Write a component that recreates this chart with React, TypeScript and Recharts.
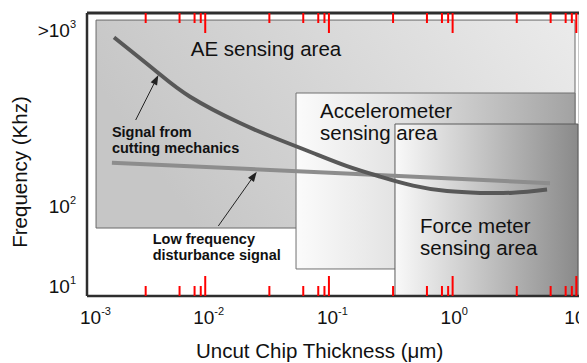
import React from 'react';
import { LineChart, Line, XAxis, YAxis, ReferenceArea, ReferenceLine, ReferenceDot } from 'recharts';

// x: uncut chip thickness (um), log axis; y: frequency (kHz), log axis (schematic)
const xDomain = [0.001107, 10.71];
const yDomain = [7.72, 26600];

const xMajorTicks = [0.001, 0.01, 0.1, 1, 10];
const xTickExp = ['-3', '-2', '-1', '0', '1'];
const xMinorTicks = [
  0.0033, 0.0062, 0.0082, 0.0092,
  0.033, 0.062, 0.082, 0.092,
  0.33, 0.62, 0.82, 0.92,
  3.3, 6.2, 8.2, 9.2,
];

const yTicks = [10, 100, 16000];
const yTickBase = ['10', '10', '>10'];
const yTickExp = ['1', '2', '3'];

// signal from cutting mechanics
const cuttingX = [0.00183, 0.00405, 0.00754, 0.0191, 0.0402, 0.0744, 0.14, 0.259, 0.479, 0.901, 1.67, 3.08, 5.8];
const cuttingY = [13200, 4910, 2390, 1120, 688, 473, 324, 240, 185, 158, 150, 151, 166];

// low frequency disturbance signal
const disturbX = [0.00176, 0.102, 6.13];
const disturbY = [358, 268, 198];

// sensing areas
const areaNames = ['ae', 'acc', 'force'];
const areaX1 = [0.00131, 0.0542, 0.342];
const areaX2 = [9.76, 9.76, 10.3];
const areaY1 = [54.6, 16.8, 7.8];
const areaY2 = [21700, 2660, 1090];

// text annotations
const noteLines = [
  ['AE sensing area'],
  ['Accelerometer', 'sensing area'],
  ['Force meter', 'sensing area'],
  ['Signal from', 'cutting mechanics'],
  ['Low frequency', 'disturbance signal'],
];
const noteX = [0.00764, 0.0847, 0.545, 0.00176, 0.00376];
const noteY = [7720, 1285, 47.3, 750, 34.5];
const noteBold = [false, false, false, true, true];

// arrows from notes to curves
const arrowFromX = [0.00274, 0.01276];
const arrowFromY = [1223, 57.9];
const arrowToX = [0.00418, 0.0261];
const arrowToY = [4467, 276];

const FONT = '"Liberation Sans", Arial, sans-serif';
const PLOT_LEFT = 79;
const PLOT_H = 283;
const TICK = '#ff0000';
const FRAME = '#2e2e2e';

const cuttingData = cuttingX.map((x, i) => ({ x, y: cuttingY[i] }));
const disturbData = disturbX.map((x, i) => ({ x, y: disturbY[i] }));

// x axis tick: inward marks at the bottom and the top of the frame, label on decades
function XTick(props: any) {
  const { x, y, payload } = props;
  const idx = xMajorTicks.indexOf(payload.value);
  const major = idx >= 0;
  const len = major ? 20 : 10;
  const inPlot = x >= PLOT_LEFT + 1;
  return (
    <g>
      {inPlot && <line x1={x} x2={x} y1={y} y2={y - len} stroke={TICK} strokeWidth={2} />}
      {inPlot && <line x1={x} x2={x} y1={y - PLOT_H} y2={y - PLOT_H + len} stroke={TICK} strokeWidth={2} />}
      {major && (
        <text x={Math.max(x - 12, PLOT_LEFT - 7)} y={y + 28} fontSize={19} fill="#111" fontFamily={FONT}>
          10
          <tspan dy={-9} fontSize={11}>{xTickExp[idx]}</tspan>
        </text>
      )}
    </g>
  );
}

function YTick(props: any) {
  const { x, y, payload } = props;
  const idx = yTicks.indexOf(payload.value);
  return (
    <text x={x - 11} y={y + 6} textAnchor="end" fontSize={19} fill="#111" fontFamily={FONT}>
      {yTickBase[idx]}
      <tspan dy={-9} fontSize={11}>{yTickExp[idx]}</tspan>
    </text>
  );
}

function Arrow(props: any) {
  const { x1, y1, x2, y2 } = props;
  const a = Math.atan2(y2 - y1, x2 - x1);
  const L = 10;
  const W = 3.6;
  const bx = x2 - L * Math.cos(a);
  const by = y2 - L * Math.sin(a);
  const px = -Math.sin(a) * W;
  const py = Math.cos(a) * W;
  return (
    <g>
      <line x1={x1} y1={y1} x2={bx} y2={by} stroke="#222" strokeWidth={1} />
      <polygon points={`${x2},${y2} ${bx + px},${by + py} ${bx - px},${by - py}`} fill="#222" />
    </g>
  );
}

function makeNote(i: number) {
  const bold = noteBold[i];
  const size = bold ? 14.5 : 20.5;
  const lh = bold ? 16.5 : 22;
  return (props: any) => (
    <text x={props.cx} y={props.cy} fontSize={size} fontWeight={bold ? 'bold' : 'normal'} fill="#111" fontFamily={FONT}>
      {noteLines[i].map((t, k) => (
        <tspan key={k} x={props.cx} dy={k === 0 ? 0 : lh}>{t}</tspan>
      ))}
    </text>
  );
}

const XTitle = (props: any) => {
  const { viewBox } = props;
  return (
    <text x={188} y={viewBox.y + 62} fontSize={20.5} fill="#111" fontFamily={FONT}>
      Uncut Chip Thickness (μm)
    </text>
  );
};

const YTitle = (props: any) => {
  const { viewBox } = props;
  const cx = viewBox.x + 19;
  const cy = viewBox.y + viewBox.height / 2 + 17.5;
  return (
    <text x={cx} y={cy} transform={`rotate(-90 ${cx} ${cy})`} textAnchor="middle" fontSize={20.5} fill="#111" fontFamily={FONT}>
      Frequency (Khz)
    </text>
  );
};

const areaFill: Record<string, string> = { ae: 'url(#gAE)', acc: 'url(#gAcc)', force: 'url(#gForce)' };
const areaStroke: Record<string, string> = { ae: '#6a6a6a', acc: '#707070', force: '#5a5a5a' };

export default function App() {
  return (
    <LineChart width={579} height={355} margin={{ top: 5, right: 7, left: 0, bottom: 0 }}>
      <defs>
        <linearGradient id="gAE" x1="0" y1="0.3" x2="1" y2="0">
          <stop offset="0%" stopColor="#c6c6c6" />
          <stop offset="100%" stopColor="#ebebeb" />
        </linearGradient>
        <linearGradient id="gAcc" x1="0" y1="0" x2="1" y2="0">
          <stop offset="0%" stopColor="#fbfbfb" />
          <stop offset="40%" stopColor="#e0e0e0" />
          <stop offset="100%" stopColor="#a2a2a2" />
        </linearGradient>
        <linearGradient id="gForce" x1="0" y1="0" x2="1" y2="0">
          <stop offset="0%" stopColor="#f9f9f9" />
          <stop offset="100%" stopColor="#8a8a8a" />
        </linearGradient>
      </defs>
      {areaNames.map((n, i) => (
        <ReferenceArea
          key={n}
          x1={areaX1[i]}
          x2={areaX2[i]}
          y1={areaY1[i]}
          y2={areaY2[i]}
          fill={areaFill[n]}
          fillOpacity={1}
          stroke={areaStroke[n]}
          strokeWidth={1}
        />
      ))}
      <Line data={disturbData} dataKey="y" type="linear" stroke="#8d8d8d" strokeWidth={4} dot={false} activeDot={false} isAnimationActive={false} />
      <Line data={cuttingData} dataKey="y" type="natural" stroke="#585858" strokeWidth={4} dot={false} activeDot={false} isAnimationActive={false} />
      {arrowFromX.map((x, i) => (
        <ReferenceLine
          key={`arrow-${i}`}
          segment={[{ x, y: arrowFromY[i] }, { x: arrowToX[i], y: arrowToY[i] }]}
          shape={<Arrow />}
        />
      ))}
      {noteX.map((x, i) => (
        <ReferenceDot key={`note-${i}`} x={x} y={noteY[i]} r={0} shape={makeNote(i)} />
      ))}
      <ReferenceLine x={xDomain[0]} stroke={FRAME} strokeWidth={2.5} />
      <ReferenceLine x={xDomain[1] * 0.9999} stroke={FRAME} strokeWidth={2.5} />
      <ReferenceLine y={yDomain[0] * 1.0001} stroke={FRAME} strokeWidth={2.5} />
      <ReferenceLine y={yDomain[1] * 0.9999} stroke={FRAME} strokeWidth={3} />
      <XAxis
        dataKey="x"
        type="number"
        scale="log"
        domain={xDomain}
        allowDataOverflow
        ticks={[...xMajorTicks, ...xMinorTicks]}
        interval={0}
        tick={<XTick />}
        tickLine={false}
        tickSize={0}
        tickMargin={0}
        axisLine={false}
        height={67}
        label={<XTitle />}
      />
      <YAxis
        type="number"
        scale="log"
        domain={yDomain}
        allowDataOverflow
        ticks={yTicks}
        interval={0}
        tick={<YTick />}
        tickLine={false}
        tickSize={0}
        tickMargin={0}
        axisLine={false}
        width={79}
        label={<YTitle />}
      />
    </LineChart>
  );
}
